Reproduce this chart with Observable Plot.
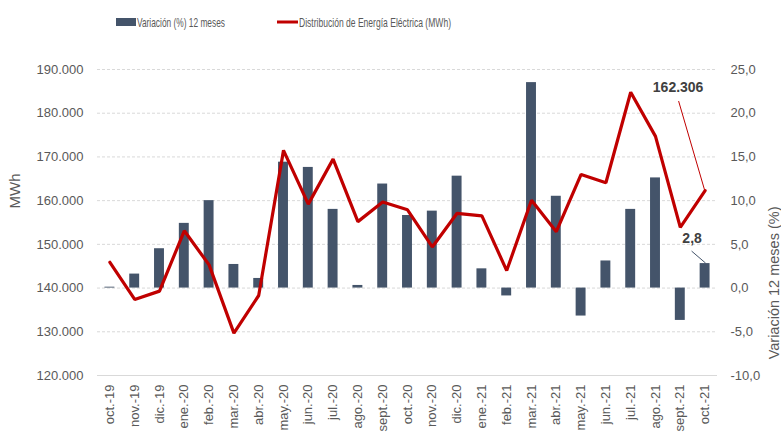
<!DOCTYPE html>
<html>
<head>
<meta charset="utf-8">
<script src="https://cdn.jsdelivr.net/npm/d3@7"></script>
<script src="https://cdn.jsdelivr.net/npm/@observablehq/plot@0.6"></script>
<style>
  html, body { margin: 0; padding: 0; background: #fff; }
  #wrap { width: 781px; height: 432px; overflow: hidden; font-family: "Liberation Sans", Arial, sans-serif; }
  #legend { display: block; }
</style>
</head>
<body>
<div id="wrap">
  <svg id="legend" width="781" height="36"></svg>
  <div id="chart"></div>
</div>
<script>
const months = ["oct.-19","nov.-19","dic.-19","ene.-20","feb.-20","mar.-20","abr.-20","may.-20","jun.-20","jul.-20","ago.-20","sept.-20","oct.-20","nov.-20","dic.-20","ene.-21","feb.-21","mar.-21","abr.-21","may.-21","jun.-21","jul.-21","ago.-21","sept.-21","oct.-21"];
const energyMWh = [145900,137400,139300,153100,145300,129700,138300,171500,159200,169500,155200,159700,157900,149400,157100,156500,144000,160100,152900,166000,164100,184800,174700,153900,162306];
const variationPct = [0.1,1.6,4.5,7.4,10.0,2.7,1.1,14.4,13.8,9.0,0.3,11.9,8.3,8.8,12.8,2.2,-0.9,23.5,10.5,-3.2,3.1,9.0,12.6,-3.7,2.8];
const leftTicks = [120000,130000,140000,150000,160000,170000,180000,190000];
const rightTicks = [-10,-5,0,5,10,15,20,25];
const seriesNames = ["Variación (%) 12 meses", "Distribución de Energía Eléctrica (MWh)"];
const axisTitles = ["MWh", "Variación 12 meses (%)"];

const locale = d3.formatLocale({decimal: ",", thousands: ".", grouping: [3], currency: ["", "€"], minus: "-"});
const fmtInt = locale.format(",.0f");
const fmtPct = locale.format(".1f");

// dual axis mapping: 0% <-> 140.000 MWh, 5% <-> 10.000 MWh
const ZERO = 140000, K = 2000;
const toMWh = p => ZERO + p * K;
const toPct = v => (v - ZERO) / K;

const rows = months.map((m, i) => ({month: m, energy: energyMWh[i], pct: variationPct[i]}));
const last = rows[rows.length - 1];

const textColor = "#595959";
const barColor = "#44546a";
const lineColor = "#c00000";

// leader line mark drawn through the plot scales
function leader(datum, yAccessor, ddx, ddy, color, sx = 0, sy = 0) {
  return (index, scales) => {
    const x0 = scales.x(datum.month) + scales.x.bandwidth() / 2 + sx;
    const y0 = scales.y(yAccessor(datum)) + sy;
    const l = document.createElementNS("http://www.w3.org/2000/svg", "line");
    l.setAttribute("x1", x0); l.setAttribute("y1", y0);
    l.setAttribute("x2", x0 + ddx); l.setAttribute("y2", y0 + ddy);
    l.setAttribute("stroke", color); l.setAttribute("stroke-width", 1);
    return l;
  };
}

const chart = Plot.plot({
  width: 781,
  height: 396,
  marginTop: 33,
  marginBottom: 57,
  marginLeft: 97,
  marginRight: 64,
  style: {fontFamily: "'Liberation Sans', Arial, sans-serif", fontSize: "13px", color: textColor, background: "#fff"},
  x: {type: "band", domain: months, paddingInner: 0.6, paddingOuter: 0.3, round: false},
  y: {domain: [120000, 190000]},
  marks: [
    Plot.ruleY(leftTicks.slice(1), {stroke: "#d9d9d9", strokeDasharray: "3,2"}),
    Plot.ruleY([leftTicks[0]], {stroke: "#d9d9d9"}),
    Plot.barY(rows, {x: "month", y1: () => ZERO, y2: d => toMWh(d.pct), fill: barColor}),
    Plot.line(rows, {x: "month", y: "energy", stroke: lineColor, strokeWidth: 3.2, strokeLinejoin: "miter"}),
    Plot.axisY({ticks: leftTicks, tickFormat: fmtInt, tickSize: 0, tickPadding: 14, label: null, fontSize: 13}),
    Plot.axisY({anchor: "right", ticks: rightTicks.map(toMWh), tickFormat: v => fmtPct(toPct(v)), tickSize: 0, tickPadding: 13, label: null, fontSize: 13}),
    Plot.axisX({tickRotate: -90, tickSize: 0, tickPadding: 9, label: null, fontSize: 13}),
    Plot.text([axisTitles[0]], {frameAnchor: "left", dx: -82, dy: -14, rotate: -90, fontSize: 15, fill: textColor}),
    Plot.text([axisTitles[1]], {frameAnchor: "right", dx: 57, dy: -16, rotate: -90, fontSize: 14.5, fill: textColor}),
    leader(last, d => d.energy, -26, -89, lineColor, 0, 0),
    leader(last, d => toMWh(d.pct), -14, -12, barColor, 1, 0),
    Plot.text([last], {x: "month", y: "energy", text: d => fmtInt(d.energy), dx: -27, dy: -103, fontWeight: "bold", fontSize: 14, fill: "#404040"}),
    Plot.text([last], {x: "month", y: d => toMWh(d.pct), text: d => fmtPct(d.pct), dx: -13, dy: -25, fontWeight: "bold", fontSize: 14, fill: "#404040"})
  ]
});
document.getElementById("chart").appendChild(chart);

// legend
const lg = d3.select("#legend");
lg.append("rect").attr("x", 116).attr("y", 18).attr("width", 20).attr("height", 8).attr("fill", barColor);
lg.append("text").attr("x", 137).attr("y", 26.5).attr("font-size", 13.5).attr("fill", textColor)
  .attr("textLength", 88).attr("lengthAdjust", "spacingAndGlyphs").text(seriesNames[0]);
lg.append("line").attr("x1", 277).attr("x2", 298).attr("y1", 22).attr("y2", 22).attr("stroke", lineColor).attr("stroke-width", 3);
lg.append("text").attr("x", 299).attr("y", 26.5).attr("font-size", 13.5).attr("fill", textColor)
  .attr("textLength", 152).attr("lengthAdjust", "spacingAndGlyphs").text(seriesNames[1]);
</script>
</body>
</html>
